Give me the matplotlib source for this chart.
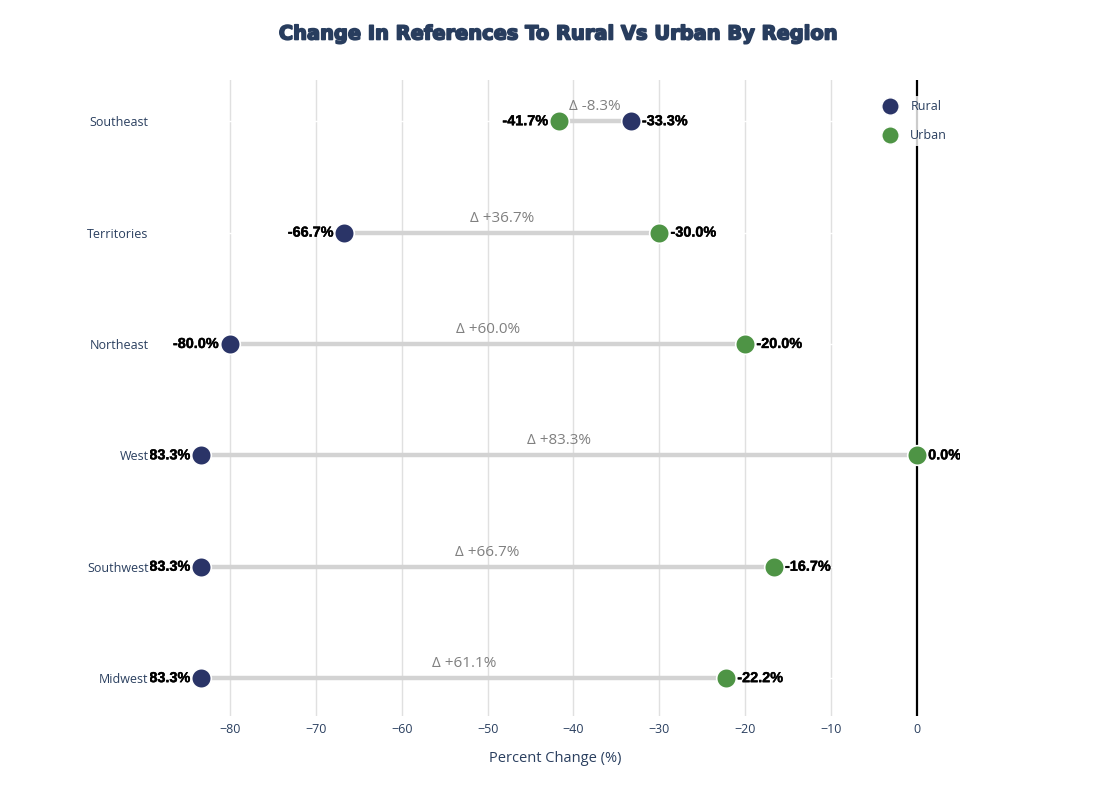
import matplotlib
matplotlib.use("Agg")
import matplotlib.pyplot as plt
from matplotlib.lines import Line2D
import matplotlib.patheffects as pe

regions = ["Midwest", "Southwest", "West", "Northeast", "Territories", "Southeast"]
rural = [-83.33, -83.33, -83.33, -80.0, -66.67, -33.33]
urban = [-22.22, -16.67, 0.0, -20.0, -30.0, -41.67]
xticks = [-80, -70, -60, -50, -40, -30, -20, -10, 0]

RURAL_C = "#2a3467"
URBAN_C = "#4e9445"
TXT_C = "#2a3f5f"

W, H = 1118, 800
fig = plt.figure(figsize=(W / 100, H / 100), dpi=100)
L, R, T, B = 150, 960, 80, 716
ax = fig.add_axes([L / W, 1 - B / H, (R - L) / W, (B - T) / H])

ax.set_xlim(-89.3, 5)
ax.set_ylim(-0.34, 5.37)

for s in ax.spines.values():
    s.set_visible(False)

for xt in xticks:
    if xt == 0:
        ax.axvline(0, color="black", lw=1.6, zorder=1.5)
    else:
        ax.axvline(xt, color="#e0e0e0", lw=1.0, zorder=0.5)
for i in range(len(regions)):
    ax.axhline(i, color="white", lw=1.0, zorder=0.8)

for i, (r, u) in enumerate(zip(rural, urban)):
    ax.plot([r, u], [i, i], color="#d3d3d3", lw=3.2, zorder=2, solid_capstyle="butt")
    ax.scatter([r], [i], s=200, color=RURAL_C, edgecolor="white", linewidth=1.2, zorder=3)
    ax.scatter([u], [i], s=200, color=URBAN_C, edgecolor="white", linewidth=1.2, zorder=3)
    lo, hi = min(r, u), max(r, u)
    for v, side in ((lo, -1), (hi, 1)):
        t = ax.annotate(f"{v:.1f}%", (v, i), xytext=(8 * side, 0), textcoords="offset points",
                        ha="right" if side < 0 else "left", va="center",
                        fontsize=10.4, fontweight="bold", color="black",
                        family="Liberation Sans", zorder=4, annotation_clip=False,
                        path_effects=[pe.withStroke(linewidth=0.3, foreground="black")])
        t.set_clip_on(True)
        t.set_clip_box(ax.bbox)
    d = u - r
    ax.annotate(f"\u0394 {d:+.1f}%", ((r + u) / 2, i), xytext=(0, 5), textcoords="offset points",
                ha="center", va="bottom", fontsize=11, color="#808080",
                family="Open Sans", zorder=4)

ax.set_yticks(range(len(regions)))
ax.set_yticklabels(regions, family="Open Sans", fontsize=9, color=TXT_C)
ax.set_xticks(xticks)
ax.set_xticklabels([f"\u2212{abs(x)}" if x < 0 else str(x) for x in xticks],
                   family="Open Sans", fontsize=9, color=TXT_C)
ax.tick_params(axis="y", length=0, pad=1)
ax.tick_params(axis="x", length=0, pad=5)
ax.set_xlabel("Percent Change (%)", family="Open Sans", fontsize=10.5, color=TXT_C, labelpad=11)

fig.text(0.5, 1 - 34 / H, "Change In References To Rural Vs Urban By Region",
         ha="center", va="center", fontsize=14, fontweight="heavy", color="#283d5e",
         family="DejaVu Sans",
         path_effects=[pe.withStroke(linewidth=1.2, foreground="#283d5e")])

handles = [Line2D([], [], marker="o", ls="", markersize=12.5, markerfacecolor=RURAL_C,
                  markeredgecolor="white", label="Rural"),
           Line2D([], [], marker="o", ls="", markersize=12.5, markerfacecolor=URBAN_C,
                  markeredgecolor="white", label="Urban")]
leg = ax.legend(handles=handles, loc="upper left", bbox_to_anchor=((874 - L) / (R - L), 1 - (90 - T) / (B - T)),
                frameon=True, facecolor="white", framealpha=0.8, edgecolor="none",
                prop={"family": "Open Sans", "size": 9}, handletextpad=1.1,
                labelspacing=1.3, borderpad=0.3, handlelength=1.0)
for t in leg.get_texts():
    t.set_color(TXT_C)

fig.savefig("out.png", dpi=100)
